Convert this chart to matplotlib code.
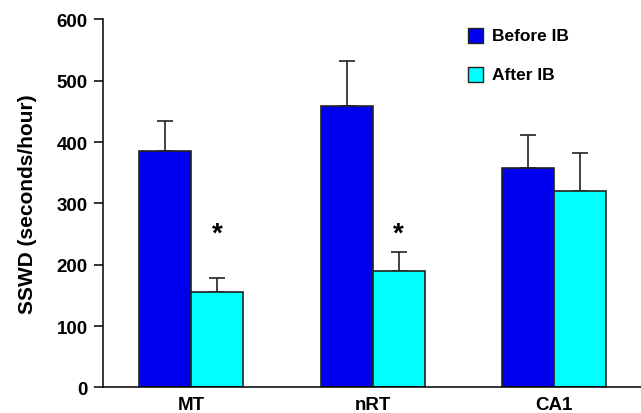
import matplotlib
matplotlib.use("Agg")
import matplotlib.pyplot as plt
from matplotlib.patches import Rectangle
import numpy as np

plt.rcParams['font.family'] = ['Liberation Sans', 'DejaVu Sans']
plt.rcParams['font.weight'] = 'bold'

regions = ["MT", "nRT", "CA1"]
before_ib = [385, 459, 358]
before_err = [50, 74, 54]
after_ib = [155, 189, 321]
after_err = [23, 31, 61]
significant = [True, True, False]
series_names = ["Before IB", "After IB"]
colors = ["#0000ee", "#00ffff"]

fig = plt.figure(figsize=(6.41, 4.14), dpi=100)
ax = fig.add_axes([0.160, 0.062, 0.840, 0.8885])

x = np.arange(len(regions))
w = 0.287

for vals, errs, offset, col in ((before_ib, before_err, -w / 2, colors[0]),
                                (after_ib, after_err, w / 2, colors[1])):
    ax.bar(x + offset, vals, width=w, color=col, edgecolor="#222222", linewidth=1.2, zorder=2)
    ax.errorbar(x + offset, vals, yerr=[np.zeros(len(errs)), errs], fmt="none",
                ecolor="#222222", elinewidth=1.2, capsize=6, capthick=1.2, zorder=1)

for xi, sig in zip(x, significant):
    if sig:
        ax.text(xi + w / 2, 250, "*", ha="center", va="center", fontsize=20, fontweight="bold")

ax.set_ylim(0, 600)
ax.set_xlim(-0.488, 2.478)
ax.set_yticks(range(0, 601, 100))
ax.set_xticks(x)
ax.set_xticklabels(regions)
ax.tick_params(axis="x", length=0, pad=6, labelsize=13.5)
ax.tick_params(axis="y", direction="out", length=6.5, width=1.1, labelsize=13.5, pad=4)
for lab in ax.get_xticklabels() + ax.get_yticklabels():
    lab.set_fontweight("bold")
ax.spines["top"].set_visible(False)
ax.spines["right"].set_visible(False)
ax.spines["left"].set_linewidth(1.1)
ax.spines["bottom"].set_linewidth(1.1)
ax.set_ylabel("SSWD (seconds/hour)", fontsize=15, fontweight="bold")
ax.yaxis.set_label_coords(-0.122, 0.5)

# legend drawn as squares with labels in figure pixel coords
for i, (name, col) in enumerate(zip(series_names, colors)):
    y0 = 414 - 44 - i * 39
    fig.patches.append(Rectangle((468 / 641, y0 / 414), 15 / 641, 15 / 414,
                                 transform=fig.transFigure, facecolor=col,
                                 edgecolor="#222222", linewidth=1.0))
    fig.text(492 / 641, (y0 + 7.5) / 414, name, ha="left", va="center",
             fontsize=12.5, fontweight="bold")

fig.savefig("out.png", dpi=100)
